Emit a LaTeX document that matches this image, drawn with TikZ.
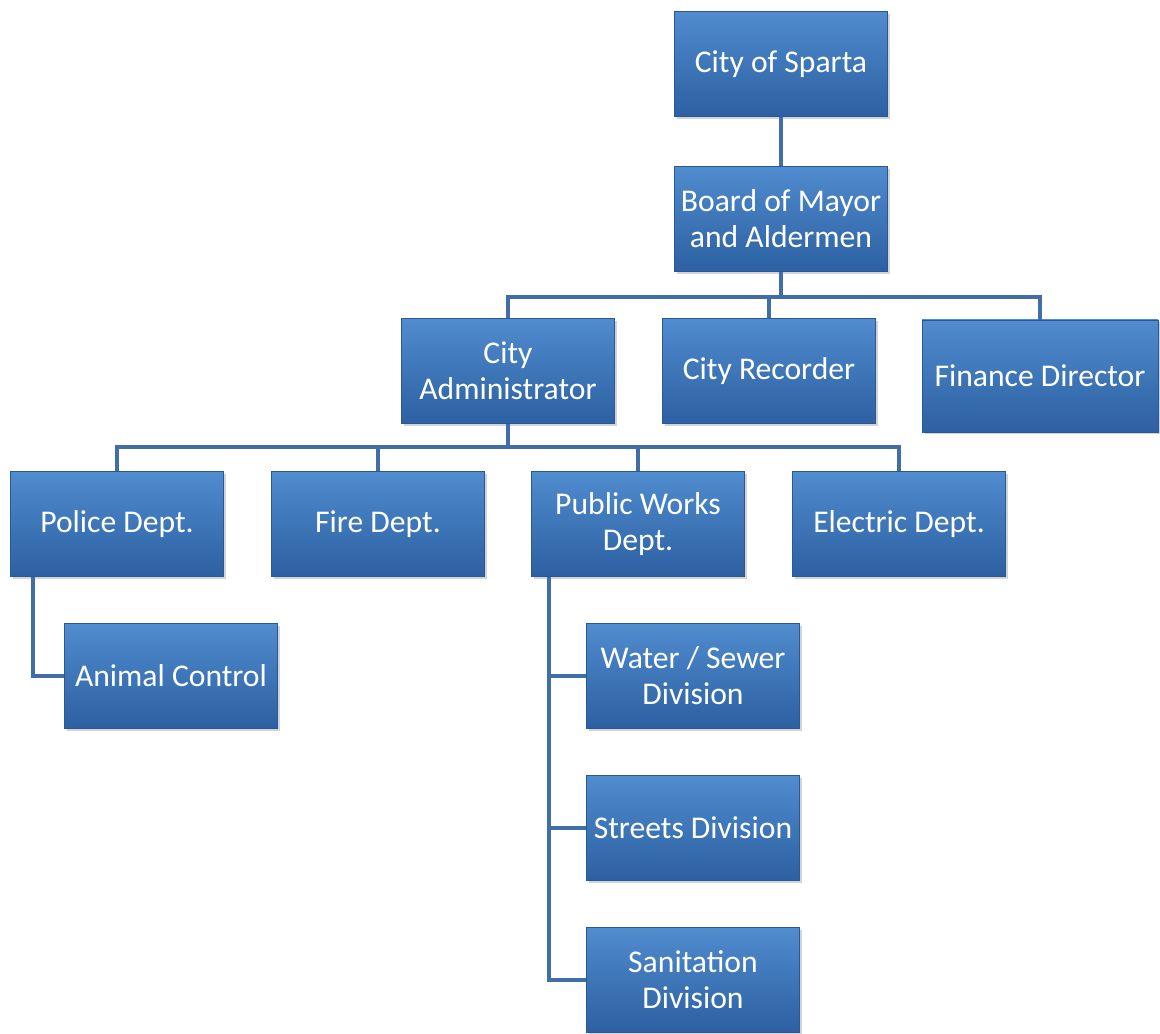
\documentclass[tikz,border=0pt]{standalone}
\usepackage{fontspec}
\setmainfont{Carlito}
\usepackage{tikz}
\usetikzlibrary{calc,shadows}
\definecolor{boxtop}{RGB}{80,140,206}
\definecolor{boxbottom}{RGB}{44,96,162}
\definecolor{boxedge}{RGB}{40,88,150}
\definecolor{linkblue}{RGB}{66,110,168}
\tikzset{
	orgbox/.style={rectangle, minimum width=4.26cm, minimum height=2.1cm, inner sep=1pt,
		top color=boxtop, bottom color=boxbottom, draw=boxedge, line width=0.4pt,
		text=white, align=center, font=\fontsize{18}{20.5}\selectfont,
		drop shadow={shadow xshift=0.05cm, shadow yshift=-0.05cm, opacity=0.35}},
	link/.style={line width=2.2pt, color=linkblue}
}

\begin{document}
\begin{tikzpicture}
			%%%%% START %%%%%
			\useasboundingbox (0, 0) rectangle (23.2, -20.68);
			
			\node[orgbox] (sparta) at (15.62, -1.28) {City of Sparta};
			\node[orgbox] (board) at (15.62, -4.38) {Board of Mayor\\and Aldermen};
			
			\node[orgbox] (admin) at (10.16, -7.42) {City\\Administrator};
			\node[orgbox] (recorder) at (15.38, -7.42) {City Recorder};
			\node[orgbox, minimum width=4.72cm, minimum height=2.24cm] (finance) at (20.8, -7.52) {Finance Director};
			
			\node[orgbox] (police) at (2.34, -10.48) {Police Dept.};
			\node[orgbox] (fire) at (7.56, -10.48) {Fire Dept.};
			\node[orgbox] (works) at (12.76, -10.48) {Public Works\\Dept.};
			\node[orgbox] (electric) at (17.98, -10.48) {Electric Dept.};
			
			\node[orgbox] (animal) at (3.42, -13.52) {Animal Control};
			\node[orgbox] (water) at (13.86, -13.52) {Water / Sewer\\Division};
			\node[orgbox] (streets) at (13.86, -16.56) {Streets Division};
			\node[orgbox] (sanit) at (13.86, -19.6) {Sanitation\\Division};
			
			% top of the tree
			\draw[link] (sparta.south) -- (board.north);
			
			\coordinate (busone) at (0, -5.94);
			\draw[link] (board.south) -- (board.south |- busone);
			\draw[link] (admin.north) -- (admin.north |- busone) -- (finance.north |- busone) -- (finance.north);
			\draw[link] (recorder.north) -- (recorder.north |- busone);
			
			\coordinate (bustwo) at (0, -8.94);
			\draw[link] (admin.south) -- (admin.south |- bustwo);
			\draw[link] (police.north) -- (police.north |- bustwo) -- (electric.north |- bustwo) -- (electric.north);
			\draw[link] (fire.north) -- (fire.north |- bustwo);
			\draw[link] (works.north) -- (works.north |- bustwo);
			
			% side branches
			\coordinate (ptrunk) at ($(police.south west)+(0.46, 0)$);
			\draw[link] (ptrunk) |- (animal.west);
			
			\coordinate (wtrunk) at ($(works.south west)+(0.36, 0)$);
			\draw[link] (wtrunk) |- (sanit.west);
			\draw[link] (wtrunk |- water.west) -- (water.west);
			\draw[link] (wtrunk |- streets.west) -- (streets.west);
			
			%%%%% END %%%%%
\end{tikzpicture}
\end{document}
